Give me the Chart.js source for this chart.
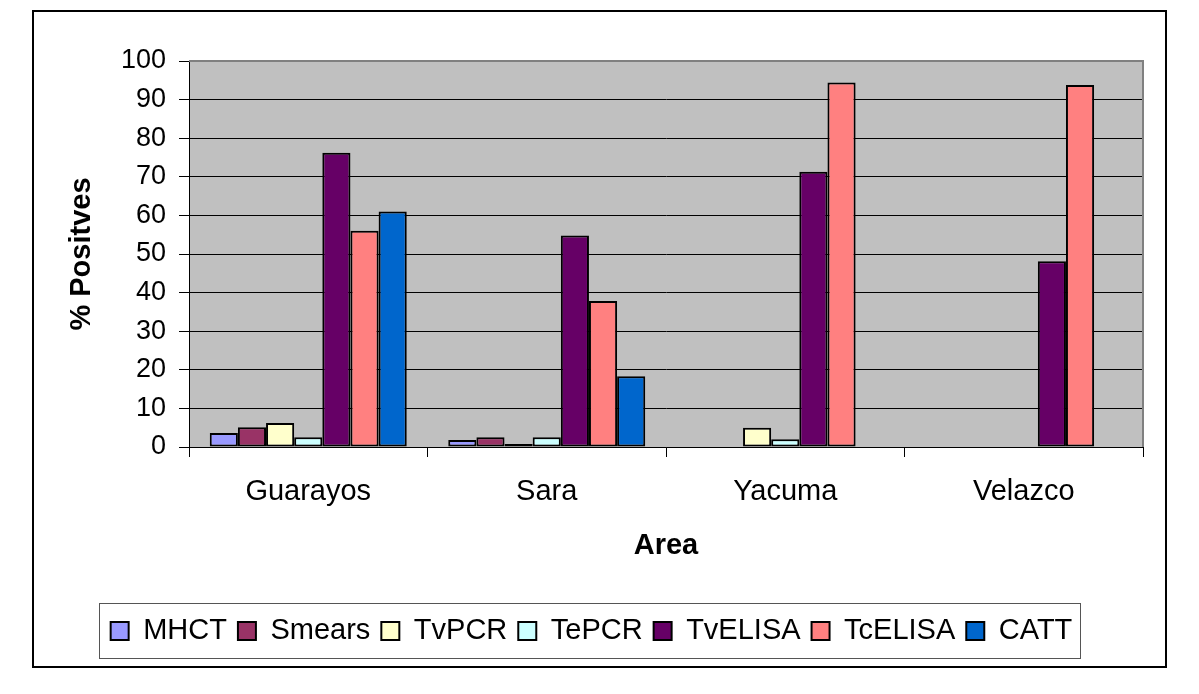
<!DOCTYPE html>
<html>
<head>
<meta charset="utf-8">
<script src="https://cdn.jsdelivr.net/npm/chart.js@4/dist/chart.umd.min.js"></script>
<style>
  body { margin: 0; background: #fff; }
  canvas { display: block; }
</style>
</head>
<body>
<canvas id="chart" width="1199" height="694"></canvas>
<script>
// areas on the x axis
const areas = ["Guarayos", "Sara", "Yacuma", "Velazco"];

// % positives per test, one value per area (null = no bar)
const mhct    = [3.6, 1.8, null, null];
const smears  = [5.1, 2.5, null, null];
const tvPcr   = [6.2, 0.8, 5.0, null];
const tePcr   = [2.5, 2.5, 2.0, null];
const tvElisa = [76.2, 54.8, 71.3, 48.1];
const tcElisa = [56.0, 37.8, 94.4, 93.8];
const catt    = [61.0, 18.3, null, null];

const yTicks = { min: 0, max: 100, step: 10 };

const font = "'Liberation Sans', Arial, sans-serif";
Chart.defaults.font.family = font;
Chart.defaults.color = "#000";

function series(label, data, color) {
  return {
    label: label,
    data: data,
    backgroundColor: color,
    borderColor: "#000",
    borderWidth: 2,
    borderSkipped: false
  };
}

// background, plot area, outer frame and the box round the legend
const decorations = {
  id: "decorations",
  beforeDraw(chart) {
    const { ctx, chartArea: a } = chart;
    ctx.save();
    ctx.fillStyle = "#fff";
    ctx.fillRect(0, 0, chart.width, chart.height);
    ctx.fillStyle = "#c0c0c0";
    ctx.fillRect(a.left, a.top, a.width, a.height);
    ctx.restore();
  },
  afterDraw(chart) {
    const { ctx, chartArea: a, legend } = chart;
    ctx.save();
    // plot area border (top + right, grey)
    ctx.strokeStyle = "#808080";
    ctx.lineWidth = 2;
    ctx.beginPath();
    ctx.moveTo(a.left, a.top);
    ctx.lineTo(a.right, a.top);
    ctx.lineTo(a.right, a.bottom);
    ctx.stroke();

    // legend frame
    const boxes = legend.legendHitBoxes;
    if (boxes && boxes.length) {
      const first = boxes[0];
      const last = boxes[boxes.length - 1];
      const left = first.left - 12;
      const right = last.left + last.width + 7;
      const top = legend.top - 2.5;
      const bottom = legend.bottom + 2.5;
      ctx.strokeStyle = "#555";
      ctx.lineWidth = 1;
      ctx.strokeRect(Math.round(left) + 0.5, Math.round(top) + 0.5,
                     Math.round(right - left), Math.round(bottom - top));
    }

    // outer chart border
    ctx.strokeStyle = "#000";
    ctx.lineWidth = 2;
    ctx.strokeRect(33, 11, 1133, 656);
    ctx.restore();
  }
};

new Chart(document.getElementById("chart"), {
  type: "bar",
  data: {
    labels: areas,
    datasets: [
      series("MHCT", mhct, "#9999ff"),
      series("Smears", smears, "#993366"),
      series("TvPCR", tvPcr, "#ffffcc"),
      series("TePCR", tePcr, "#ccffff"),
      series("TvELISA", tvElisa, "#660066"),
      series("TcELISA", tcElisa, "#ff8080"),
      series("CATT", catt, "#0066cc")
    ]
  },
  options: {
    responsive: false,
    devicePixelRatio: 1,
    animation: false,
    layout: { padding: { left: 40, right: 56, top: 61, bottom: 38.5 } },
    datasets: {
      bar: { barPercentage: 1, categoryPercentage: 0.826 }
    },
    plugins: {
      tooltip: { enabled: false },
      legend: {
        position: "bottom",
        labels: {
          font: { size: 29 },
          boxWidth: 18,
          boxHeight: 18,
          padding: 11,
          color: "#000"
        }
      }
    },
    scales: {
      x: {
        afterFit(scale) { scale.height = 158.5; },
        grid: { drawOnChartArea: false, color: "#000", tickLength: 10 },
        border: { color: "#000", width: 1 },
        ticks: { font: { size: 29 }, padding: 18, color: "#000" },
        title: {
          display: true,
          text: "Area",
          font: { size: 29, weight: "bold" },
          color: "#000",
          padding: { top: 0, bottom: 42 }
        }
      },
      y: {
        min: yTicks.min,
        max: yTicks.max,
        afterFit(scale) { scale.width = 149; },
        grid: { color: "#000", lineWidth: 1, tickLength: 10 },
        border: { color: "#000", width: 1 },
        ticks: { stepSize: yTicks.step, font: { size: 27 }, padding: 13, color: "#000" },
        title: {
          display: true,
          text: "% Positves",
          font: { size: 29, weight: "bold" },
          color: "#000",
          padding: { top: 25, bottom: 0 }
        }
      }
    }
  },
  plugins: [decorations]
});
</script>
</body>
</html>
